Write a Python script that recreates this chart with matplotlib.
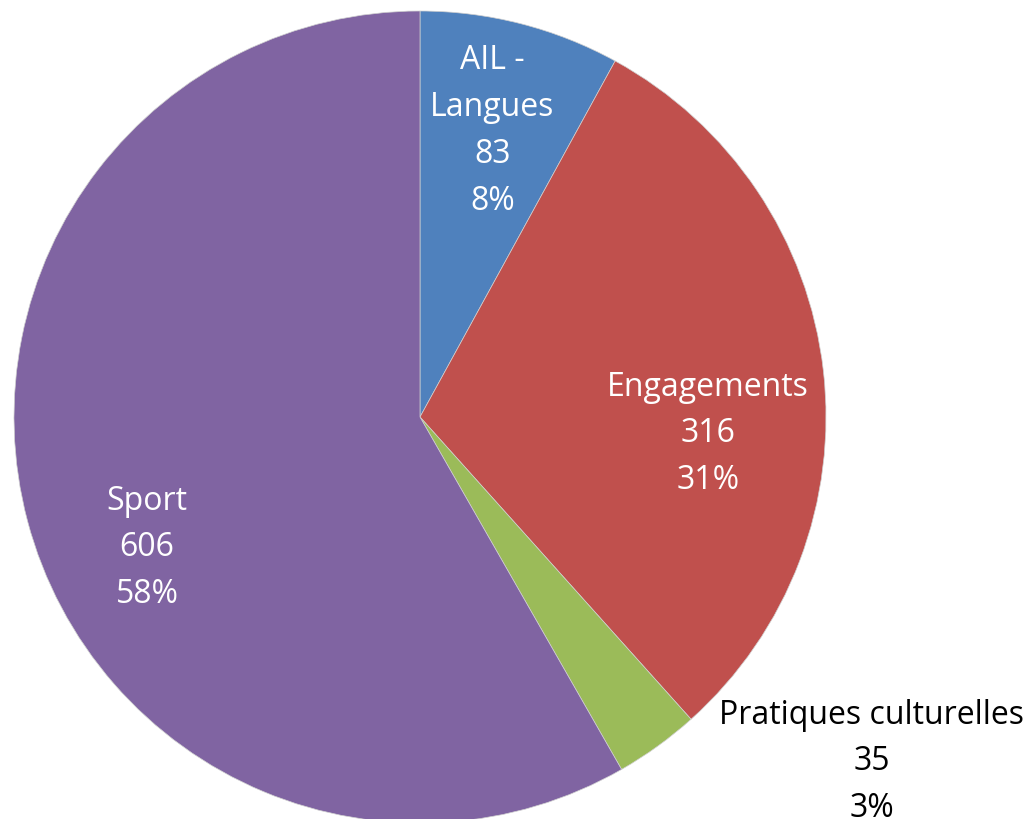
import matplotlib.pyplot as plt

# Data
categories = ['AIL -\nLangues', 'Engagements', 'Pratiques culturelles', 'Sport']
values = [83, 316, 35, 606]
percent_labels = ['8%', '31%', '3%', '58%']
colors = ['#4F81BD', '#C0504D', '#9BBB59', '#8064A2']

# label placement (data units, radius = 1) and text colour
label_pos = [(0.178, 0.707), (0.709, -0.039), (1.113, -0.847), (-0.672, -0.320)]
label_colors = ['white', 'white', 'black', 'white']

W, H = 1032, 820
cx, cy, r = 420, 418, 406

fig = plt.figure(figsize=(W / 100, H / 100), dpi=100)
ax = fig.add_axes([0, 0, 1, 1])
ax.pie(values, colors=colors, startangle=90, counterclock=False, radius=1,
       wedgeprops=dict(linewidth=0.5, edgecolor='#d0d0d0'))
ax.set_xlim(-cx / r, (W - cx) / r)
ax.set_ylim(-(H - cy) / r, cy / r)
ax.set_aspect('equal')
ax.axis('off')

for cat, val, pct, (x, y), c in zip(categories, values, percent_labels, label_pos, label_colors):
    ax.text(x, y, f'{cat}\n{val}\n{pct}', ha='center', va='center', color=c,
            fontsize=23, family='Open Sans', linespacing=1.55)

fig.savefig('out.png', dpi=100)
